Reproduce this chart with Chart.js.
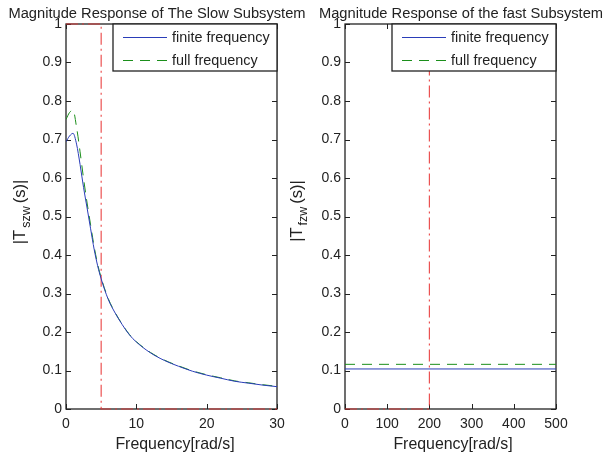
<!DOCTYPE html>
<html>
<head>
<meta charset="utf-8">
<script src="https://cdn.jsdelivr.net/npm/chart.js@4.4.1/dist/chart.umd.min.js"></script>
<style>
  html, body { margin: 0; padding: 0; background: #fff; }
  #wrap { position: relative; width: 606px; height: 457px; }
  #wrap canvas { position: absolute; left: 0; top: 0; }
</style>
</head>
<body>
<div id="wrap">
  <canvas id="slowChart" width="606" height="457"></canvas>
  <canvas id="fastChart" width="606" height="457"></canvas>
</div>
<script>
// slow subsystem, frequency in rad/s
const slowW      = [0, 0.5, 1, 1.5, 2, 2.5, 3, 3.5, 4, 4.5, 5, 6, 7, 8, 9, 10, 12, 14, 16, 18, 20, 22, 24, 26, 28, 30];
const slowFinite = [0.694, 0.709, 0.716, 0.688, 0.635, 0.575, 0.522, 0.468, 0.415, 0.372, 0.338, 0.285, 0.249, 0.219, 0.193, 0.174, 0.146, 0.126, 0.111, 0.098, 0.088, 0.080, 0.072, 0.067, 0.062, 0.058];
const slowFull   = [0.752, 0.770, 0.776, 0.732, 0.668, 0.598, 0.535, 0.478, 0.422, 0.376, 0.341, 0.287, 0.250, 0.220, 0.194, 0.175, 0.147, 0.127, 0.112, 0.099, 0.089, 0.081, 0.073, 0.068, 0.063, 0.059];
const slowBandW  = [0, 5, 5, 30];
const slowBandV  = [1, 1, 0, 0];

// fast subsystem
const fastW      = [0, 500];
const fastFinite = [0.104, 0.104];
const fastFull   = [0.116, 0.116];
const fastBandW  = [0, 200, 200];
const fastBandV  = [0, 0, 1];

const slowXTicks = [0, 10, 20, 30];
const fastXTicks = [0, 100, 200, 300, 400, 500];
const yTicks     = [0, 0.1, 0.2, 0.3, 0.4, 0.5, 0.6, 0.7, 0.8, 0.9, 1];

const seriesNames = ["finite frequency", "full frequency"];

const FONT = "'Liberation Sans', Arial, sans-serif";
const INK = "#222";
const BLUE = "#2a3db8";
const GREEN = "#1b8f1b";
const RED = "rgba(232,52,52,0.85)";

function pts(xs, ys) {
    return xs.map((x, i) => ({x: x, y: ys[i]}));
}

function axesPlugin(o) {
    return {
        id: "axes_" + o.key,
        beforeDatasetsDraw(chart) {
            const ctx = chart.ctx, a = chart.chartArea;
            ctx.save();
            ctx.strokeStyle = INK;
            ctx.lineWidth = 1.3;
            ctx.strokeRect(a.left, a.top, a.right - a.left, a.bottom - a.top);
            // inward ticks on all sides
            ctx.lineWidth = 1;
            const xs = chart.scales.x, ys = chart.scales.y;
            xs.ticks.forEach(t => {
                const px = Math.round(xs.getPixelForValue(t.value)) + 0.5;
                ctx.beginPath();
                ctx.moveTo(px, a.bottom); ctx.lineTo(px, a.bottom - 5);
                ctx.moveTo(px, a.top); ctx.lineTo(px, a.top + 5);
                ctx.stroke();
            });
            ys.ticks.forEach(t => {
                const py = Math.round(ys.getPixelForValue(t.value)) + 0.5;
                ctx.beginPath();
                ctx.moveTo(a.left, py); ctx.lineTo(a.left + 5, py);
                ctx.moveTo(a.right, py); ctx.lineTo(a.right - 5, py);
                ctx.stroke();
            });
            ctx.restore();
        },
        afterDatasetsDraw(chart) {
            const ctx = chart.ctx, a = chart.chartArea;
            // legend box in the upper right corner
            const bw = 164, bh = 47;
            const bx = a.right - bw, by = a.top;
            ctx.save();
            ctx.fillStyle = "#fff";
            ctx.fillRect(bx, by, bw, bh);
            ctx.strokeStyle = INK;
            ctx.lineWidth = 1.3;
            ctx.strokeRect(bx, by, bw, bh);
            const ds = chart.data.datasets;
            [0, 1].forEach(i => {
                const ly = by + 13 + i * 23;
                ctx.strokeStyle = ds[i].borderColor;
                ctx.lineWidth = 1;
                ctx.setLineDash(ds[i].borderDash || []);
                ctx.beginPath();
                ctx.moveTo(bx + 10, ly + 0.5);
                ctx.lineTo(bx + 54, ly + 0.5);
                ctx.stroke();
                ctx.setLineDash([]);
                ctx.fillStyle = INK;
                ctx.font = "14.4px " + FONT;
                ctx.textBaseline = "middle";
                ctx.textAlign = "left";
                ctx.fillText(ds[i].label, bx + 59, ly + 1);
            });
            ctx.restore();
        },
        afterDraw(chart) {
            const ctx = chart.ctx;
            ctx.save();
            ctx.fillStyle = INK;
            ctx.textAlign = "center";
            ctx.textBaseline = "alphabetic";
            ctx.font = "14.7px " + FONT;
            ctx.fillText(o.title, o.titleX, 18);
            ctx.font = "15.9px " + FONT;
            ctx.fillText("Frequency[rad/s]", o.xlabelX, 449);
            // y label with subscript
            ctx.translate(o.ylabelX, o.ylabelY);
            ctx.rotate(-Math.PI / 2);
            ctx.textAlign = "left";
            const big = "16.5px " + FONT, small = "12.5px " + FONT;
            ctx.font = big;
            const w1 = ctx.measureText("|T").width + 2;
            const w3 = ctx.measureText("(s)|").width;
            ctx.font = small;
            const w2 = ctx.measureText(o.sub).width + 3;
            let x0 = -(w1 + w2 + w3) / 2;
            ctx.font = big;
            ctx.fillText("|T", x0, 0);
            ctx.font = small;
            ctx.fillText(o.sub, x0 + w1, 5);
            ctx.font = big;
            ctx.fillText("(s)|", x0 + w1 + w2, 0);
            ctx.restore();
        }
    };
}

function makeChart(id, o) {
    return new Chart(document.getElementById(id), {
        type: "line",
        data: {
            datasets: [
                {
                    label: seriesNames[0],
                    data: pts(o.w, o.finite),
                    borderColor: BLUE,
                    borderWidth: 1,
                    pointRadius: 0,
                    cubicInterpolationMode: "monotone"
                },
                {
                    label: seriesNames[1],
                    data: pts(o.w, o.full),
                    borderColor: GREEN,
                    borderWidth: 1,
                    borderDash: [10, 7],
                    pointRadius: 0,
                    cubicInterpolationMode: "monotone"
                },
                {
                    label: "band",
                    data: pts(o.bandW, o.bandV),
                    borderColor: RED,
                    borderWidth: 1.2,
                    borderDash: [12, 4, 2, 4],
                    pointRadius: 0,
                    tension: 0,
                    clip: 4
                }
            ]
        },
        options: {
            responsive: false,
            animation: false,
            events: [],
            layout: {padding: o.padding},
            plugins: {legend: {display: false}, tooltip: {enabled: false}},
            scales: {
                x: {
                    type: "linear",
                    min: o.xMin, max: o.xMax,
                    grid: {display: false, drawTicks: false},
                    border: {display: false},
                    ticks: {padding: 7, color: INK, font: {family: FONT, size: 14}, autoSkip: false, maxRotation: 0},
                    afterBuildTicks(s) { s.ticks = o.xTicks.map(v => ({value: v})); },
                    afterFit(s) { s.height = 48; }
                },
                y: {
                    type: "linear",
                    min: 0, max: 1,
                    grid: {display: false, drawTicks: false},
                    border: {display: false},
                    ticks: {
                        padding: 4, color: INK, font: {family: FONT, size: 14}, autoSkip: false,
                        callback: v => String(+v.toFixed(1))
                    },
                    afterBuildTicks(s) { s.ticks = yTicks.map(v => ({value: v})); },
                    afterFit(s) { s.width = 66; }
                }
            }
        },
        plugins: [axesPlugin(o)]
    });
}

makeChart("slowChart", {
    key: "slow",
    w: slowW, finite: slowFinite, full: slowFull,
    bandW: slowBandW, bandV: slowBandV,
    xMin: 0, xMax: 30, xTicks: slowXTicks,
    padding: {left: 0, right: 329, top: 24, bottom: 0},
    title: "Magnitude Response of The Slow Subsystem", titleX: 157,
    xlabelX: 175, ylabelX: 25, ylabelY: 212, sub: "szw"
});

makeChart("fastChart", {
    key: "fast",
    w: fastW, finite: fastFinite, full: fastFull,
    bandW: fastBandW, bandV: fastBandV,
    xMin: 0, xMax: 500, xTicks: fastXTicks,
    padding: {left: 279, right: 50, top: 24, bottom: 0},
    title: "Magnitude Response of the fast Subsystem", titleX: 461,
    xlabelX: 453, ylabelX: 302, ylabelY: 211, sub: "fzw"
});
</script>
</body>
</html>
